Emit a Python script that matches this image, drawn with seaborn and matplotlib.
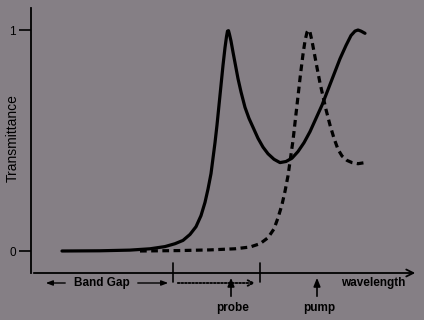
import matplotlib
matplotlib.use("Agg")
import matplotlib.pyplot as plt
import seaborn as sns
import pandas as pd

# ---- data (wavelength in arbitrary units, transmittance 0..1) ----
solid_wl = [62, 100, 130, 150, 165, 175, 183, 190, 196, 201, 205, 208, 211, 213, 215,
            217, 219, 221, 223, 225, 226.5, 227.5, 228.5, 229.5, 231, 233, 235.5, 238, 241, 245,
            249, 253, 258, 263, 268, 274, 280, 286, 292, 298, 304, 310, 316, 322, 328,
            334, 340, 346, 351, 355, 358, 361, 365]
solid_T = [0.000, 0.001, 0.004, 0.010, 0.020, 0.033, 0.048, 0.075, 0.11, 0.16, 0.22, 0.28,
           0.35, 0.42, 0.49, 0.57, 0.66, 0.75, 0.84, 0.92, 0.97, 0.995, 0.997, 0.98, 0.95, 0.90,
           0.84, 0.78, 0.72, 0.65, 0.60, 0.56, 0.51, 0.47, 0.44, 0.415, 0.40, 0.405, 0.42,
           0.45, 0.49, 0.54, 0.60, 0.66, 0.73, 0.80, 0.87, 0.93, 0.975, 0.995, 1.00, 0.995,
           0.985]
dashed_wl = [140, 180, 210, 235, 250, 260, 268, 274, 278, 282, 285, 288, 290.5, 293, 295.5,
             298, 300.5, 303, 305, 307, 308.5, 310, 312, 314.5, 317, 320, 323, 326, 330,
             334, 338, 342, 347, 352, 358, 365]
dashed_T = [0.000, 0.002, 0.005, 0.010, 0.018, 0.033, 0.06, 0.10, 0.15, 0.21, 0.27, 0.34,
            0.42, 0.50, 0.60, 0.70, 0.80, 0.89, 0.95, 0.99, 1.00, 0.99, 0.95, 0.89, 0.83,
            0.76, 0.70, 0.64, 0.57, 0.51, 0.46, 0.43, 0.41, 0.40, 0.395, 0.40]
y_ticks = [0, 1]
y_ticklabels = ["0", "1"]
x_label = "wavelength"
y_label = "Transmittance"
band_label = "Band Gap"
probe_label = "probe"
pump_label = "pump"

BG = "#857f85"
W, H = 424, 320

sns.set_theme(style="white")
plt.rcParams["font.family"] = ["Liberation Sans", "DejaVu Sans"]

fig = plt.figure(figsize=(W / 100, H / 100), dpi=100, facecolor=BG)
# axes box: x from px 31 to 417, y from px 8 to 273
ax = fig.add_axes([31 / W, 1 - 273 / H, (417 - 31) / W, (273 - 8) / H], facecolor=BG)

df_s = pd.DataFrame({"wl": solid_wl, "T": solid_T})
df_d = pd.DataFrame({"wl": dashed_wl, "T": dashed_T})
sns.lineplot(data=df_s, x="wl", y="T", ax=ax, color="black", lw=2.3, sort=False)
sns.lineplot(data=df_d, x="wl", y="T", ax=ax, color="black", lw=2.3, sort=False)
ax.lines[-1].set_linestyle((0, (2.1, 1.4)))
for ln in ax.lines:
    ln.set_solid_joinstyle("round")
    ln.set_solid_capstyle("round")

ax.set_xlim(31, 417)
ax.set_ylim(-(273 - 251) / 221, 1 + (30 - 8) / 221)
ax.set_xlabel("")
ax.set_ylabel("")
ax.set_xticks([])
ax.set_yticks(y_ticks)
ax.set_yticklabels(y_ticklabels, fontsize=8.5, color="black")
ax.tick_params(axis="y", direction="out", length=9, width=1.2, color="black",
               left=True, pad=2)
for s in ["top", "right", "bottom"]:
    ax.spines[s].set_visible(False)
ax.spines["left"].set_color("black")
ax.spines["left"].set_linewidth(1.3)


def fp(px, py):
    return (px / W, 1 - py / H)


# x-axis with arrow
fig.add_artist(matplotlib.patches.FancyArrowPatch(
    fp(31, 273), fp(418, 273), transform=fig.transFigure,
    arrowstyle="->,head_length=5,head_width=2.5", color="black", lw=1.3))

# y label
fig.text(*fp(13, 138), y_label, rotation=90, ha="center", va="center",
         fontsize=10, color="black")

# band-gap annotation
fig.add_artist(matplotlib.patches.FancyArrowPatch(
    fp(68, 283), fp(43, 283), transform=fig.transFigure,
    arrowstyle="-|>,head_length=4,head_width=1.5", color="black", lw=1.0))
fig.add_artist(matplotlib.patches.FancyArrowPatch(
    fp(135, 283), fp(171, 283), transform=fig.transFigure,
    arrowstyle="-|>,head_length=4,head_width=1.5", color="black", lw=1.0))
fig.text(*fp(102, 283), band_label, ha="center", va="center", fontsize=8.5,
         fontweight="bold", color="black")

# vertical markers
for px in (173, 260):
    fig.add_artist(matplotlib.lines.Line2D([px / W, px / W], [1 - 263 / H, 1 - 282 / H],
                                           transform=fig.transFigure, color="black", lw=1.2))

# dotted arrow
fig.add_artist(matplotlib.patches.FancyArrowPatch(
    fp(175, 283), fp(258, 283), transform=fig.transFigure,
    arrowstyle="->,head_length=4,head_width=2", color="black", lw=1.3,
    linestyle=(0, (1, 1))))

# probe & pump arrows
for px, lab in ((231, probe_label), (317, pump_label)):
    fig.add_artist(matplotlib.patches.FancyArrowPatch(
        fp(px, 299), fp(px, 275), transform=fig.transFigure,
        arrowstyle="-|>,head_length=5,head_width=2", color="black", lw=1.2))
    fig.text(*fp(px + 2, 308), lab, ha="center", va="center", fontsize=8.5,
             fontweight="bold", color="black")

fig.text(*fp(373, 283), x_label, ha="center", va="center", fontsize=8.5,
         fontweight="bold", color="black")

fig.savefig("out.png", dpi=100, facecolor=BG)
